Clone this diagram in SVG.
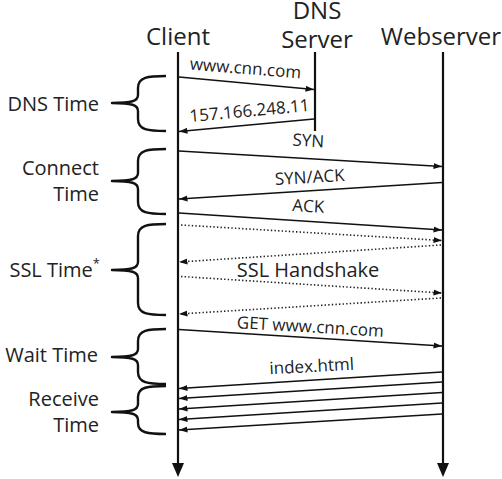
<svg xmlns="http://www.w3.org/2000/svg" width="502" height="479" viewBox="0 0 502 479">
<style>
text{font-family:"Open Sans","Noto Sans","DejaVu Sans",sans-serif;fill:#222}
.hdr{font-size:24px;text-anchor:middle}
.lbl{font-size:20px;text-anchor:end}
.msg{font-size:17px;text-anchor:middle}
.life{stroke:#111;stroke-width:2.2;fill:none}
.m{stroke:#111;stroke-width:1.3;fill:none;marker-end:url(#ah)}
.d{stroke:#222;stroke-width:1.6;fill:none;stroke-dasharray:1.4 2.2;marker-end:url(#ah)}
.brace{stroke:#111;stroke-width:2.4;fill:none;stroke-linejoin:round}
</style>
<defs>
<marker id="ah" markerUnits="userSpaceOnUse" markerWidth="9" markerHeight="7" refX="8.5" refY="3.5" orient="auto">
<path d="M0,0.5 L8.5,3.5 L0,6.5 z" fill="#111"/>
</marker>
</defs>
<g id="client">
<text class="hdr" x="178" y="45">Client</text>
<line class="life" x1="178" y1="52" x2="178" y2="464"/>
<polygon points="172,463 184,463 178,477" fill="#111"/>
</g>
<g id="dns-server">
<text class="hdr" x="317" y="19">DNS</text>
<text class="hdr" x="317" y="48">Server</text>
<line class="life" x1="315" y1="52" x2="315" y2="131"/>
</g>
<g id="webserver">
<text class="hdr" x="441" y="45">Webserver</text>
<line class="life" x1="443" y1="52" x2="443" y2="464"/>
<polygon points="437,463 449,463 443,477" fill="#111"/>
</g>
<g id="connectors">
<line class="m" x1="179" y1="77" x2="314" y2="89.5"/>
<line class="m" x1="314" y1="119" x2="179" y2="131.5"/>
<line class="m" x1="179" y1="151" x2="442" y2="166.5"/>
<line class="m" x1="442" y1="182.5" x2="179" y2="199"/>
<line class="m" x1="179" y1="213" x2="442" y2="230"/>
<line class="d" x1="181" y1="225" x2="442" y2="240.5"/>
<line class="d" x1="441" y1="245" x2="179" y2="262"/>
<line class="d" x1="181" y1="276.5" x2="442" y2="293"/>
<line class="d" x1="441" y1="298" x2="179" y2="314"/>
<line class="m" x1="179" y1="329.5" x2="442" y2="346"/>
<line class="m" x1="442" y1="372" x2="179" y2="388.5"/>
<line class="m" x1="442" y1="382" x2="179" y2="398.5"/>
<line class="m" x1="442" y1="392.5" x2="179" y2="409"/>
<line class="m" x1="442" y1="403" x2="179" y2="419.5"/>
<line class="m" x1="442" y1="414" x2="179" y2="430"/>
</g>
<g id="message-labels">
<text class="msg" transform="translate(245,74) rotate(4.5)">www.cnn.com</text>
<text class="msg" transform="translate(250,116.5) rotate(-5.3)">157.166.248.11</text>
<text class="msg" x="308" y="146.5" transform="rotate(3.4 308 146.5)">SYN</text>
<text class="msg" x="310" y="183" transform="rotate(-3.4 310 183)">SYN/ACK</text>
<text class="msg" x="308" y="212" transform="rotate(3.4 308 212)">ACK</text>
<text class="msg" style="font-size:20px" x="308" y="277">SSL Handshake</text>
<text class="msg" x="310" y="332.5" transform="rotate(3.4 310 332.5)">GET www.cnn.com</text>
<text class="msg" x="312" y="372" transform="rotate(-3.2 312 372)">index.html</text>
</g>
<g id="dns-time">
<path class="brace" d="M166,76 C148,76 138,77 138,88 L138,95 C138,101 132,103 112,103 C132,103 138,105 138,111 L138,119 C138,130 148,131 166,131"/>
<text class="lbl" x="99" y="111">DNS Time</text>
</g>
<g id="connect-time">
<path class="brace" d="M166,149 C148,149 138,150 138,161 L138,173 C138,179 132,181 112,181 C132,181 138,183 138,189 L138,202 C138,213 148,214 166,214"/>
<text class="lbl" x="99" y="174.5">Connect</text>
<text class="lbl" x="99" y="201">Time</text>
</g>
<g id="ssl-time">
<path class="brace" d="M166,224 C148,224 138,225 138,236 L138,262 C138,268 132,270 112,270 C132,270 138,272 138,278 L138,303 C138,314 148,315 166,315"/>
<text class="lbl" x="100" y="277">SSL Time<tspan dy="-9" font-size="13">*</tspan></text>
</g>
<g id="wait-time">
<path class="brace" d="M166,329 C148,329 138,330 138,341 L138,349 C138,355 132,357 112,357 C132,357 138,359 138,365 L138,372 C138,383 148,384 166,384"/>
<text class="lbl" x="98" y="362">Wait Time</text>
</g>
<g id="receive-time">
<path class="brace" d="M166,386 C148,386 138,387 138,397 L138,404 C138,410 132,412 112,412 C132,412 138,414 138,420 L138,423 C138,433 148,434 166,434"/>
<text class="lbl" x="99" y="405.5">Receive</text>
<text class="lbl" x="99" y="432">Time</text>
</g>
</svg>
